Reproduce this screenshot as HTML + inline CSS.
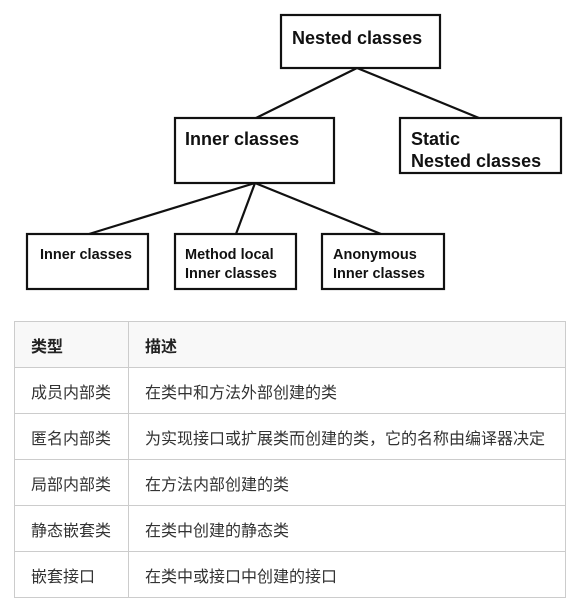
<!DOCTYPE html>
<html><head><meta charset="utf-8"><style>
body{margin:0;width:588px;height:611px;background:#fff;position:relative;overflow:hidden;font-family:"Liberation Sans","Noto Sans CJK SC",sans-serif;}
svg{position:absolute;left:0;top:0}
table{position:absolute;left:14px;top:321px;width:552px;border-collapse:collapse;font-size:16px;color:#333}
td{border:1px solid #ccc;height:45px;padding:0 0 0 16px;vertical-align:middle}
tr:first-child td{background:#f8f8f8;font-weight:bold;color:#222}
</style></head><body>
<svg width="588" height="311" font-family="Liberation Sans, sans-serif" font-weight="bold" fill="#111">
<g stroke="#111" stroke-width="2.2" fill="none">
<rect x="281" y="15" width="159" height="53"/>
<rect x="175" y="118" width="159" height="65"/>
<rect x="400" y="118" width="161" height="55"/>
<rect x="27" y="234" width="121" height="55"/>
<rect x="175" y="234" width="121" height="55"/>
<rect x="322" y="234" width="122" height="55"/>
<line x1="357" y1="68" x2="256" y2="118"/>
<line x1="357" y1="68" x2="479" y2="118"/>
<line x1="255" y1="183" x2="89" y2="234"/>
<line x1="255" y1="183" x2="236" y2="234"/>
<line x1="255" y1="183" x2="381" y2="234"/>
</g>
<text x="292" y="44" font-size="18">Nested classes</text>
<text x="185" y="145" font-size="18">Inner classes</text>
<text x="411" y="145" font-size="18">Static</text>
<text x="411" y="167" font-size="18">Nested classes</text>
<text x="40" y="259" font-size="14.5">Inner classes</text>
<text x="185" y="259" font-size="14.5">Method local</text>
<text x="185" y="278" font-size="14.5">Inner classes</text>
<text x="333" y="259" font-size="14.5">Anonymous</text>
<text x="333" y="278" font-size="14.5">Inner classes</text>
</svg>
<table>
<tr><td style="width:97px">类型</td><td>描述</td></tr>
<tr><td>成员内部类</td><td>在类中和方法外部创建的类</td></tr>
<tr><td>匿名内部类</td><td>为实现接口或扩展类而创建的类，它的名称由编译器决定</td></tr>
<tr><td>局部内部类</td><td>在方法内部创建的类</td></tr>
<tr><td>静态嵌套类</td><td>在类中创建的静态类</td></tr>
<tr><td>嵌套接口</td><td>在类中或接口中创建的接口</td></tr>
</table>
</body></html>
